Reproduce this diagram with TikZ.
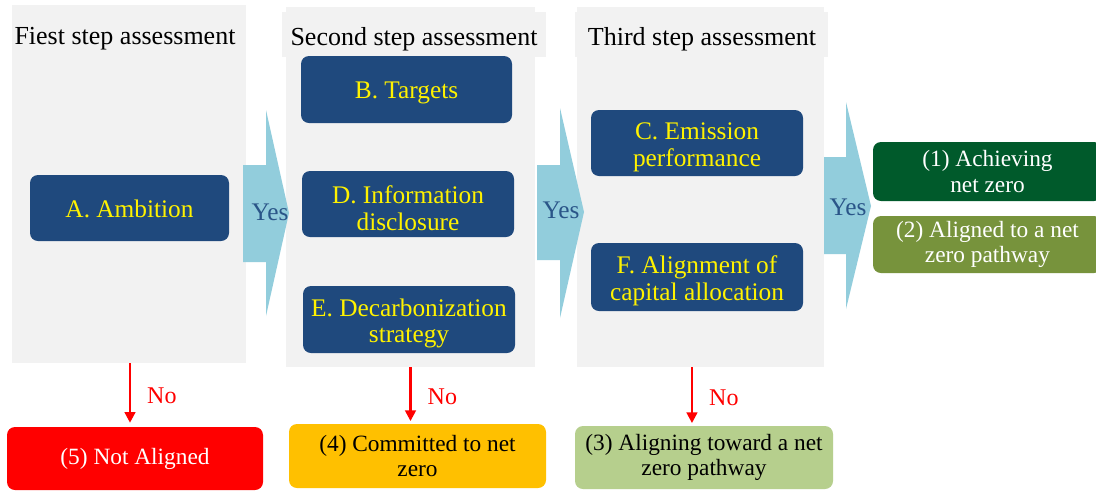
\documentclass[tikz,border=0pt]{standalone}
\usepackage{fontspec}
\setmainfont{Liberation Serif}
\usetikzlibrary{arrows.meta}
\definecolor{panelgray}{HTML}{F2F2F2}
\definecolor{boxblue}{HTML}{1F497D}
\definecolor{chev}{HTML}{92CDDC}
\definecolor{yestext}{HTML}{2A5588}
\definecolor{resred}{HTML}{FF0000}
\definecolor{resorange}{HTML}{FFC000}
\definecolor{respale}{HTML}{B6CF8D}
\definecolor{resdark}{HTML}{005A2B}
\definecolor{resolive}{HTML}{77933C}
% name, x1, y1, x2, y2, style, text  (coordinates in px)
\newcommand\mkbox[7]{\node[#6, minimum width={(#4-#2)*0.75pt}, minimum height={(#5-#3)*0.75pt}] (#1) at ({(#2+#4)/2},{(#3+#5)/2}) {#7};}
\begin{document}
\begin{tikzpicture}[x=0.75pt,y=-0.75pt,
  panel/.style={fill=panelgray, inner sep=0pt},
  titlefont/.style={font=\fontsize{19.5}{22}\selectfont, text=black, inner sep=0pt},
  critbox/.style={fill=boxblue, rounded corners=6pt, inner sep=0pt},
  crittext/.style={inner sep=0pt, align=center, text=yellow, font=\fontsize{19}{20}\selectfont},
  resbox/.style={rounded corners=6pt, inner sep=0pt, align=center, font=\fontsize{17.5}{19}\selectfont},
  chevron/.style={fill=chev},
  yeslabel/.style={text=yestext, font=\fontsize{19}{20}\selectfont, inner sep=0pt},
  noarrow/.style={draw=resred, line width=1.8pt, -{Triangle[length=8pt,width=8pt]}},
  nolabel/.style={text=resred, font=\fontsize{18}{19}\selectfont, inner sep=0pt}
]
\useasboundingbox (0,0) rectangle (1096,490);
\fill[white] (0,0) rectangle (1096,490);

% panels
\mkbox{p1}{12}{5}{246}{363}{panel}{}
\mkbox{p2}{286}{7}{535}{367}{panel}{}
\mkbox{p3}{577}{7}{824}{367}{panel}{}
\mkbox{t2bg}{282}{12}{546}{57}{panel}{}
\mkbox{t3bg}{575}{12}{828}{57}{panel}{}
\node[titlefont] (t1) at (125,39) {Fiest step assessment};
\node[titlefont] (t2) at (414,39) {Second step assessment};
\node[titlefont] (t3) at (702,39) {Third step assessment};

% chevrons
\fill[chevron] (243,165) -- (266,165) -- (266,110) -- (289,213) -- (266,316) -- (266,262) -- (243,262) -- cycle;
\fill[chevron] (537,165) -- (560,165) -- (560,108) -- (584,212) -- (560,318) -- (560,260) -- (537,260) -- cycle;
\fill[chevron] (824,157) -- (846,157) -- (846,102) -- (871,206) -- (846,309) -- (846,254) -- (824,254) -- cycle;
\node[yeslabel] (y1) at (270,212) {Yes};
\node[yeslabel] (y2) at (561,210) {Yes};
\node[yeslabel] (y3) at (848,207) {Yes};

% criteria boxes
\mkbox{a}{30}{175}{229}{241}{critbox}{}
\mkbox{b}{301}{56}{512}{123}{critbox}{}
\mkbox{d}{302}{171}{514}{237}{critbox}{}
\mkbox{e}{303}{286}{515}{353}{critbox}{}
\mkbox{c}{591}{110}{803}{176}{critbox}{}
\mkbox{f}{591}{243}{803}{311}{critbox}{}
\node[crittext] (at) at ([yshift=-1pt]a.center) {A. Ambition};
\node[crittext] (bt) at ([yshift=-2.5pt]b.center) {B. Targets};
\node[crittext] (dt) at ([yshift=-3pt]d.center) {D. Information\\disclosure};
\node[crittext] (et) at ([yshift=-3pt]e.center) {E. Decarbonization\\strategy};
\node[crittext] (ct) at ([yshift=-3pt]c.center) {C. Emission\\performance};
\node[crittext] (ft) at ([yshift=-3pt]f.center) {F. Alignment of\\capital allocation};

% result boxes
\mkbox{r1}{873}{142}{1102}{201}{resbox, fill=resdark, text=white}{(1) Achieving\\net zero}
\mkbox{r2}{873}{216}{1102}{273}{resbox, fill=resolive, text=white}{(2) Aligned to a net\\zero pathway}
\mkbox{r5}{7}{427}{263}{490}{resbox, fill=resred, text=white}{(5) Not Aligned}
\mkbox{r4}{289}{424}{546}{488}{resbox, fill=resorange, text=black}{(4) Committed to net\\zero}
\mkbox{r3}{575}{426}{833}{489}{resbox, fill=respale, text=black}{(3) Aligning toward a net\\zero pathway}

% No arrows
\draw[noarrow] ([xshift=0.75pt]p1.south) -- ([xshift=0.75pt,yshift=3pt]p1.south |- r5.north) node[nolabel, pos=0.55, right=12pt] (n1) {No};
\draw[noarrow] (p2.south) -- ([yshift=2pt]p2.south |- r4.north) node[nolabel, pos=0.55, right=12pt] (n2) {No};
\draw[noarrow] ([xshift=-6.4pt]p3.south) -- ([xshift=-6.4pt,yshift=2pt]p3.south |- r3.north) node[nolabel, pos=0.55, right=12pt] (n3) {No};
\end{tikzpicture}
\end{document}
